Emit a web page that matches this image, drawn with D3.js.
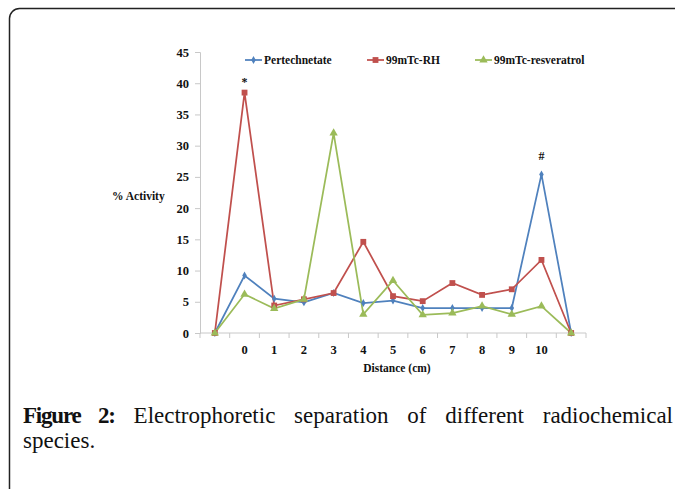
<!DOCTYPE html>
<html><head><meta charset="utf-8">
<script src="https://cdn.jsdelivr.net/npm/d3@7"></script>
<style>
html,body{margin:0;padding:0;background:#fff;width:675px;height:489px;overflow:hidden;}
#cap{position:absolute;left:23px;top:403px;width:650px;font-family:"Liberation Serif","Times New Roman",serif;font-size:23px;line-height:25px;color:#111;}
#cap .l1{text-align:justify;text-align-last:justify;}
#cap b{font-weight:bold;letter-spacing:-1.2px;}
</style></head>
<body>
<svg id="chart" width="675" height="489" style="position:absolute;left:0;top:0"></svg>
<div id="cap"><div class="l1"><b>Figure 2:</b> Electrophoretic separation of different radiochemical</div><div>species.</div></div>
<script>
const categories = ["", "0", "1", "2", "3", "4", "5", "6", "7", "8", "9", "10", ""];
const pertechnetate = [0, 9.2, 5.5, 4.9, 6.4, 4.8, 5.2, 4.0, 4.0, 4.0, 4.0, 25.4, 0];
const rh = [0, 38.5, 4.4, 5.4, 6.4, 14.6, 5.9, 5.1, 8.0, 6.1, 7.0, 11.7, 0];
const resveratrol = [0, 6.2, 3.9, 5.4, 32.0, 3.0, 8.4, 2.9, 3.2, 4.3, 3.0, 4.3, 0];
const seriesNames = ["Pertechnetate", "99mTc-RH", "99mTc-resveratrol"];
const yTicks = [0, 5, 10, 15, 20, 25, 30, 35, 40, 45];
const annotations = [{cat: 1, value: 38.5, text: "*"}, {cat: 11, value: 25.4, text: "#"}];
const annotationOffsets = [7, 14];

const svg = d3.select("#chart");
// frame
svg.append("rect").attr("x", 9.5).attr("y", 8.5).attr("width", 720).attr("height", 540)
  .attr("rx", 10).attr("fill", "none").attr("stroke", "#222").attr("stroke-width", 1.5);

const pL = 200, pR = 586, pT = 52, pB = 333;
const idx = d3.range(categories.length);
const x = d3.scaleBand().domain(idx).range([pL, pR]);
const y = d3.scaleLinear().domain([0, 45]).range([pB, pT]);
const serif = "'Liberation Serif','Times New Roman',serif";

// y axis
const ya = svg.append("g").attr("transform", `translate(${pL},0)`)
  .call(d3.axisLeft(y).tickValues(yTicks).tickSize(5).tickPadding(6));
ya.select(".domain").attr("stroke", "#c8c8c8");
ya.selectAll(".tick line").attr("stroke", "#c8c8c8");
ya.selectAll("text").attr("font-family", serif).attr("font-weight", "bold").attr("font-size", 12.5).attr("fill", "#111");

// x axis: line and ticks between categories
const xa = svg.append("g").attr("transform", `translate(0,${pB})`);
xa.append("line").attr("x1", pL).attr("x2", pR).attr("stroke", "#c8c8c8");
xa.selectAll("line.tk").data(d3.range(categories.length + 1)).join("line")
  .attr("class", "tk")
  .attr("x1", i => pL + i * x.bandwidth()).attr("x2", i => pL + i * x.bandwidth())
  .attr("y1", 0).attr("y2", 5).attr("stroke", "#c8c8c8");
xa.selectAll("text").data(idx).join("text")
  .attr("x", i => x(i) + x.bandwidth() / 2).attr("y", 21)
  .attr("text-anchor", "middle").attr("font-family", serif).attr("font-weight", "bold")
  .attr("font-size", 12.5).attr("fill", "#111").text(i => categories[i]);

svg.append("text").attr("x", 397).attr("y", 372).attr("text-anchor", "middle")
  .attr("font-family", serif).attr("font-weight", "bold").attr("font-size", 11.5).attr("fill", "#111")
  .text("Distance (cm)");
svg.append("text").attr("x", 112).attr("y", 200)
  .attr("font-family", serif).attr("font-weight", "bold").attr("font-size", 11.5).attr("fill", "#111")
  .text("% Activity");

const cx = i => x(i) + x.bandwidth() / 2;
const series = [
  {name: seriesNames[0], data: pertechnetate, color: "#4f81bd", shape: d3.symbolDiamond, size: 18},
  {name: seriesNames[1], data: rh, color: "#c0504d", shape: d3.symbolSquare, size: 34},
  {name: seriesNames[2], data: resveratrol, color: "#9bbb59", shape: d3.symbolTriangle, size: 30}
];
const line = d3.line().x((d, i) => cx(i)).y(d => y(d));
series.forEach(s => {
  svg.append("path").attr("d", line(s.data)).attr("fill", "none")
    .attr("stroke", s.color).attr("stroke-width", 1.75);
});
series.forEach(s => {
  svg.selectAll(null).data(s.data).join("path")
    .attr("d", d3.symbol().type(s.shape).size(s.size))
    .attr("transform", (d, i) => `translate(${cx(i)},${y(d)})`)
    .attr("fill", s.color);
});

// legend
const legX = [245, 367, 475];
series.forEach((s, k) => {
  const g = svg.append("g").attr("transform", `translate(${legX[k]},60)`);
  g.append("line").attr("x1", 0).attr("x2", 17).attr("stroke", s.color).attr("stroke-width", 1.75);
  g.append("path").attr("d", d3.symbol().type(s.shape).size(s.size)).attr("transform", "translate(8.5,0)").attr("fill", s.color);
  g.append("text").attr("x", 19).attr("y", 4).attr("font-family", serif).attr("font-weight", "bold")
    .attr("font-size", 11.5).attr("fill", "#111").text(s.name);
});

// annotations
annotations.forEach((a, k) => {
  svg.append("text").attr("x", cx(a.cat)).attr("y", y(a.value) - annotationOffsets[k]).attr("text-anchor", "middle")
    .attr("font-family", serif).attr("font-weight", "bold").attr("font-size", 12).attr("fill", "#111")
    .text(a.text);
});
</script>
</body></html>
